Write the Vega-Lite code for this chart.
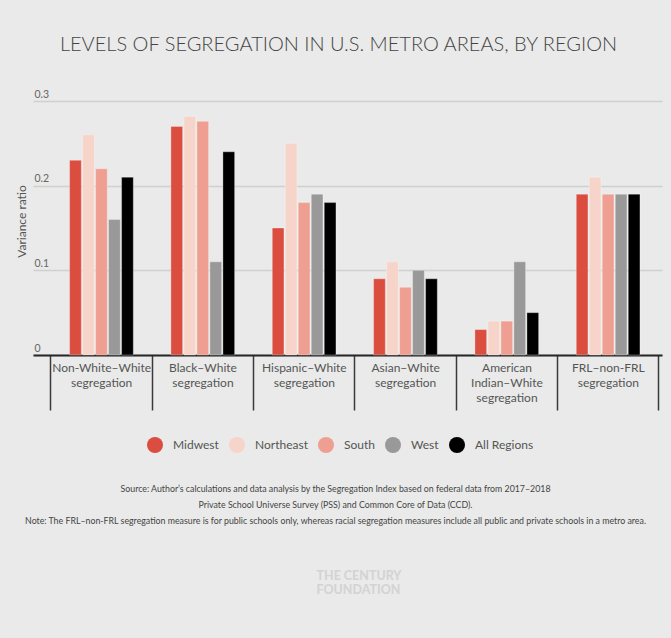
{
  "$schema": "https://vega.github.io/schema/vega-lite/v6.json",
  "background": "#e9eae9",
  "padding": {"left": 15, "top": 35, "right": 9, "bottom": 44},
  "title": {
    "text": "LEVELS OF SEGREGATION IN U.S. METRO AREAS, BY REGION",
    "font": "Lato",
    "fontSize": 20,
    "fontWeight": 300,
    "color": "#444444",
    "anchor": "middle",
    "offset": 34
  },
  "config": {"view": {"stroke": null}, "font": "Lato"},
  "vconcat": [
    {
      "width": 629,
      "height": 254,
      "title": {
        "text": ["THE CENTURY", "FOUNDATION"],
        "orient": "bottom",
        "anchor": "middle",
        "align": "left",
        "dx": -31,
        "font": "Lato",
        "fontSize": 12.5,
        "fontWeight": "bold",
        "color": "#d3d3d3",
        "lineHeight": 14,
        "offset": 45
      },
      "data": {
        "values": [
          {"measure": "Non-White–White segregation", "region": "Midwest", "value": 0.23},
          {"measure": "Non-White–White segregation", "region": "Northeast", "value": 0.26},
          {"measure": "Non-White–White segregation", "region": "South", "value": 0.22},
          {"measure": "Non-White–White segregation", "region": "West", "value": 0.16},
          {"measure": "Non-White–White segregation", "region": "All Regions", "value": 0.21},
          {"measure": "Black–White segregation", "region": "Midwest", "value": 0.27},
          {"measure": "Black–White segregation", "region": "Northeast", "value": 0.282},
          {"measure": "Black–White segregation", "region": "South", "value": 0.276},
          {"measure": "Black–White segregation", "region": "West", "value": 0.11},
          {"measure": "Black–White segregation", "region": "All Regions", "value": 0.24},
          {"measure": "Hispanic–White segregation", "region": "Midwest", "value": 0.15},
          {"measure": "Hispanic–White segregation", "region": "Northeast", "value": 0.25},
          {"measure": "Hispanic–White segregation", "region": "South", "value": 0.18},
          {"measure": "Hispanic–White segregation", "region": "West", "value": 0.19},
          {"measure": "Hispanic–White segregation", "region": "All Regions", "value": 0.18},
          {"measure": "Asian–White segregation", "region": "Midwest", "value": 0.09},
          {"measure": "Asian–White segregation", "region": "Northeast", "value": 0.11},
          {"measure": "Asian–White segregation", "region": "South", "value": 0.08},
          {"measure": "Asian–White segregation", "region": "West", "value": 0.10},
          {"measure": "Asian–White segregation", "region": "All Regions", "value": 0.09},
          {"measure": "American Indian–White segregation", "region": "Midwest", "value": 0.03},
          {"measure": "American Indian–White segregation", "region": "Northeast", "value": 0.04},
          {"measure": "American Indian–White segregation", "region": "South", "value": 0.04},
          {"measure": "American Indian–White segregation", "region": "West", "value": 0.11},
          {"measure": "American Indian–White segregation", "region": "All Regions", "value": 0.05},
          {"measure": "FRL–non-FRL segregation", "region": "Midwest", "value": 0.19},
          {"measure": "FRL–non-FRL segregation", "region": "Northeast", "value": 0.21},
          {"measure": "FRL–non-FRL segregation", "region": "South", "value": 0.19},
          {"measure": "FRL–non-FRL segregation", "region": "West", "value": 0.19},
          {"measure": "FRL–non-FRL segregation", "region": "All Regions", "value": 0.19}
        ]
      },
      "mark": {"type": "bar", "stroke": "#ffffff", "strokeOpacity": 0.3, "strokeWidth": 1},
      "encoding": {
        "x": {
          "field": "measure",
          "type": "nominal",
          "sort": null,
          "scale": {"paddingInner": 0, "paddingOuter": 0.1036, "align": 0.857},
          "axis": {
            "title": [
              "Source: Author’s calculations and data analysis by the Segregation Index based on federal data from 2017–2018",
              "Private School Universe Survey (PSS) and Common Core of Data (CCD).",
              "Note: The FRL–non-FRL segregation measure is for public schools only, whereas racial segregation measures include all public and private schools in a metro area."
            ],
            "titleFont": "Lato",
            "titleFontSize": 8.8,
            "titleFontWeight": "normal",
            "titleColor": "#444444",
            "titleX": 302,
            "titleY": 129,
            "titleBaseline": "top",
            "titleAlign": "center",
            "titleLineHeight": 16,
            "titleLimit": 2000,
            "labelExpr": "isValid(datum.value) ? split(datum.value, ' ') : ''",
            "labelAngle": 0,
            "labelFontSize": 12,
            "labelColor": "#555555",
            "labelLineHeight": 15,
            "labelBaseline": "top",
            "labelPadding": -48,
            "labelLimit": 200,
            "bandPosition": 1,
            "tickExtra": true,
            "tickSize": 55,
            "tickColor": "#3a3a3a",
            "tickWidth": 1.5,
            "domainColor": "#262626",
            "domainWidth": 2
          }
        },
        "xOffset": {
          "field": "region",
          "type": "nominal",
          "sort": ["Midwest", "Northeast", "South", "West", "All Regions"],
          "scale": {"paddingInner": 0.1, "paddingOuter": 0, "range": [18.6, 82.3]}
        },
        "y": {
          "field": "value",
          "type": "quantitative",
          "scale": {"domain": [0, 0.3]},
          "axis": {
            "title": "Variance ratio",
            "titleFontSize": 12,
            "titleFontWeight": "normal",
            "titleColor": "#555555",
            "titleX": -8,
            "titleY": 120,
            "titleAngle": -90,
            "titleAlign": "center",
            "titleBaseline": "alphabetic",
            "values": [0, 0.1, 0.2, 0.3],
            "format": "~g",
            "labelAlign": "left",
            "labelBaseline": "alphabetic",
            "labelPadding": -1,
            "labelOffset": -4,
            "labelFontSize": 10.5,
            "labelColor": "#666666",
            "ticks": false,
            "domain": false,
            "grid": true,
            "gridColor": "#cfd0cf",
            "gridWidth": 1.5
          }
        },
        "color": {
          "field": "region",
          "type": "nominal",
          "scale": {
            "domain": ["Midwest", "Northeast", "South", "West", "All Regions"],
            "range": ["#da4d3f", "#f7d4c9", "#ef9f92", "#999999", "#000000"]
          },
          "legend": {
            "orient": "none",
            "legendX": 114,
            "legendY": 336,
            "direction": "horizontal",
            "title": null,
            "symbolType": "circle",
            "symbolSize": 256,
            "symbolStrokeWidth": 0,
            "symbolStrokeColor": null,
            "labelFontSize": 12,
            "labelColor": "#555555",
            "labelOffset": 10,
            "columnPadding": 10
          }
        }
      }
    }
  ]
}
